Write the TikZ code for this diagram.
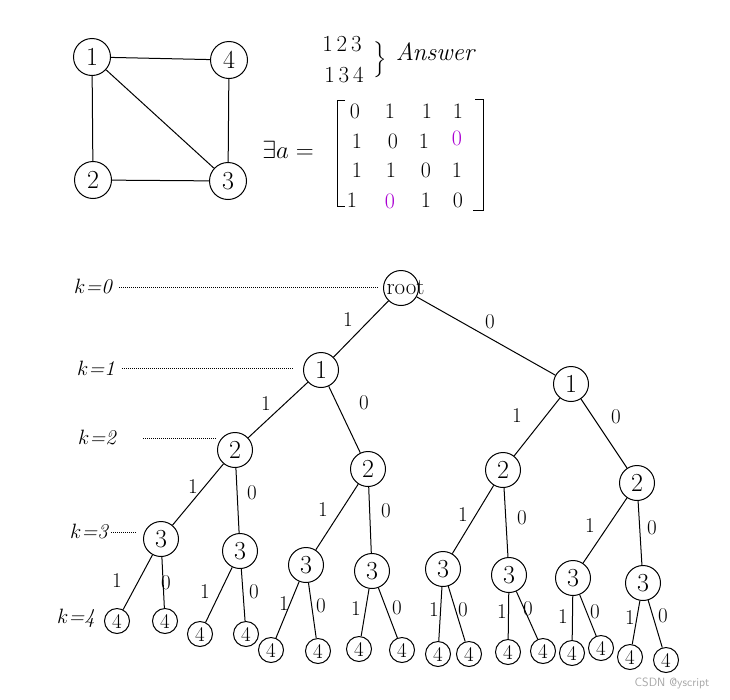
\documentclass[tikz,border=0pt]{standalone}
\usepackage{amsmath,amssymb}
\usepackage{fontspec}
\usepackage{xcolor}
\usepackage{tikz}
\usetikzlibrary{positioning}
\definecolor{inkpurple}{RGB}{170,0,210}

\begin{document}
\begin{tikzpicture}[x=1pt,y=-1pt,line width=1pt,
  main node/.style={circle,draw,minimum size=37pt,inner sep=0pt,font=\fontsize{26}{28}\selectfont},
  tree node/.style={circle,draw,minimum size=35pt,inner sep=0pt,font=\fontsize{26}{28}\selectfont},
  leaf node/.style={circle,draw,minimum size=25pt,inner sep=0pt,font=\fontsize{21}{23}\selectfont},
  edge label/.style={font=\fontsize{21}{23}\selectfont,inner sep=1pt},
  level label/.style={font=\fontsize{21}{23}\selectfont\itshape,inner sep=1pt},
  entry/.style={font=\fontsize{22}{24}\selectfont,inner sep=0pt},
  level line/.style={line width=0.6pt,dash pattern=on 1pt off 1pt}]
\useasboundingbox (0,0) rectangle (730,699);
% graph
\node[main node] (g1) at (92,57){1};
\node[main node] (g4) at (229,60){4};
\node[main node] (g2) at (93,180){2};
\node[main node] (g3) at (228,181){3};
\draw (g1)--(g4) (g1)--(g2) (g1)--(g3) (g4)--(g3) (g2)--(g3);
% answer
\node[entry,font=\fontsize{23}{25}\selectfont] (ans1) at (342,44){1\,2\,3};
\node[entry,font=\fontsize{23}{25}\selectfont] (ans2) at (344,75){1\,3\,4};
\node[inner sep=0pt,font=\fontsize{20}{22}\selectfont] (brace) at (380,60){$\left.\rule{0pt}{21pt}\right\}$};
\node[entry,font=\fontsize{25}{27}\selectfont\itshape] (answer) at (435,52){Answer};
% matrix
\node[entry,font=\fontsize{26}{28}\selectfont] (arrow) at (288,150){$\exists a=$};
\draw (345,100)--(337,100)--(337,206)--(345,206);
\draw (475,99)--(483,99)--(483,210)--(473,210);
\node[entry] (m11) at (355,111){0};
\node[entry] (m12) at (390,111){1};
\node[entry] (m13) at (427,111){1};
\node[entry] (m14) at (458,111){1};
\node[entry] (m21) at (357,141){1};
\node[entry] (m22) at (393,141){0};
\node[entry] (m23) at (424,141){1};
\node[entry,text=inkpurple] (m24) at (457,138){0};
\node[entry] (m31) at (357,170){1};
\node[entry] (m32) at (391,170){1};
\node[entry] (m33) at (426,170){0};
\node[entry] (m34) at (457,170){1};
\node[entry] (m41) at (352,200){1};
\node[entry,text=inkpurple] (m42) at (390,201){0};
\node[entry] (m43) at (426,200){1};
\node[entry] (m44) at (458,200){0};
% tree
\node[tree node,font=\fontsize{23}{25}\selectfont] (r) at (401,288){\makebox[0pt]{\hspace{9pt}root}};
\node[tree node] (a) at (321,370){1};
\node[tree node] (b) at (571,384){1};
\node[tree node] (aa) at (235,450){2};
\node[tree node] (ab) at (368,469){2};
\node[tree node] (ba) at (503,470){2};
\node[tree node] (bb) at (637,483){2};
\node[tree node] (aaa) at (161,539){3};
\node[tree node] (aab) at (240,551){3};
\node[tree node] (aba) at (306,565){3};
\node[tree node] (abb) at (372,571){3};
\node[tree node] (baa) at (443,569){3};
\node[tree node] (bab) at (509,575){3};
\node[tree node] (bba) at (573,578){3};
\node[tree node] (bbb) at (643,583){3};
\node[leaf node] (l1) at (117,621){4};
\node[leaf node] (l2) at (165,621){4};
\node[leaf node] (l3) at (200,634){4};
\node[leaf node] (l4) at (246,634){4};
\node[leaf node] (l5) at (271,650){4};
\node[leaf node] (l6) at (318,651){4};
\node[leaf node] (l7) at (359,649){4};
\node[leaf node] (l8) at (402,650){4};
\node[leaf node] (l9) at (438,654){4};
\node[leaf node] (l10) at (469,654){4};
\node[leaf node] (l11) at (508,652){4};
\node[leaf node] (l12) at (543,651){4};
\node[leaf node] (l13) at (572,653){4};
\node[leaf node] (l14) at (601,648){4};
\node[leaf node] (l15) at (630,657){4};
\node[leaf node] (l16) at (666,660){4};
\draw (r)--(a) (r)--(b)
  (a)--(aa) (a)--(ab) (b)--(ba) (b)--(bb)
  (aa)--(aaa) (aa)--(aab) (ab)--(aba) (ab)--(abb)
  (ba)--(baa) (ba)--(bab) (bb)--(bba) (bb)--(bbb)
  (aaa)--(l1) (aaa)--(l2) (aab)--(l3) (aab)--(l4)
  (aba)--(l5) (aba)--(l6) (abb)--(l7) (abb)--(l8)
  (baa)--(l9) (baa)--(l10) (bab)--(l11) (bab)--(l12)
  (bba)--(l13) (bba)--(l14) (bbb)--(l15) (bbb)--(l16);
% edge labels
\node[edge label] (e1) at (348,320){1};
\node[edge label] (e2) at (490,322){0};
\node[edge label] (e3) at (266,404){1};
\node[edge label] (e4) at (364,403){0};
\node[edge label] (e5) at (517,416){1};
\node[edge label] (e6) at (616,417){0};
\node[edge label] (e7) at (193,487){1};
\node[edge label] (e8) at (252,493){0};
\node[edge label] (e9) at (323,510){1};
\node[edge label] (e10) at (386,511){0};
\node[edge label] (e11) at (463,515){1};
\node[edge label] (e12) at (522,518){0};
\node[edge label] (e13) at (590,526){1};
\node[edge label] (e14) at (652,528){0};
\node[edge label] (e15) at (117,581){1};
\node[edge label] (e16) at (166,583){0};
\node[edge label] (e17) at (205,592){1};
\node[edge label] (e18) at (254,592){0};
\node[edge label] (e19) at (284,604){1};
\node[edge label] (e20) at (321,606){0};
\node[edge label] (e21) at (356,609){1};
\node[edge label] (e22) at (397,608){0};
\node[edge label] (e23) at (434,610){1};
\node[edge label] (e24) at (463,610){0};
\node[edge label] (e25) at (502,612){1};
\node[edge label] (e26) at (528,609){0};
\node[edge label] (e27) at (563,617){1};
\node[edge label] (e28) at (595,612){0};
\node[edge label] (e29) at (630,618){1};
\node[edge label] (e30) at (663,616){0};
% levels
\node[level label] (k0) at (93,287){$k$=0};
\node[level label] (k1) at (96,368){$k$=1};
\node[level label] (k2) at (97,438){$k$=2};
\node[level label] (k3) at (89,532){$k$=3};
\node[level label] (k4) at (76,618){$k$=4};
\draw[level line,shorten <=6pt,shorten >=5pt] (k0.east)--(k0.east -| r.west);
\draw[level line,shorten <=6pt,shorten >=9pt] (k1.east)--(k1.east -| a.west);
\draw[level line,shorten <=26pt,shorten >=1pt] (k2.east)--(k2.east -| aa.west);
\draw[level line,shorten <=2pt,shorten >=7pt] (k3.east)--(k3.east -| aaa.west);
\node[text=gray!70,font=\sffamily\fontsize{12}{14}\selectfont] (mark) at (672,683){CSDN @yscript};
\end{tikzpicture}
\end{document}
